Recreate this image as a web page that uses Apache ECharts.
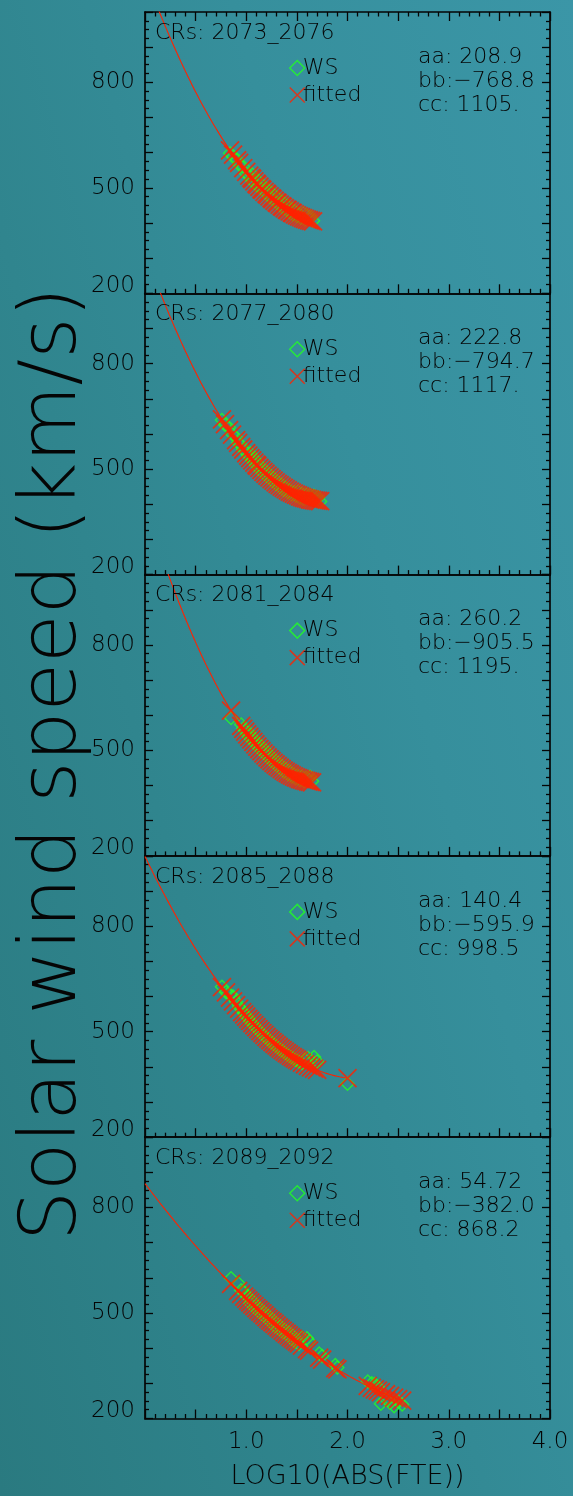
<!DOCTYPE html>
<html>
<head>
<meta charset="utf-8">
<script src="https://cdn.jsdelivr.net/npm/echarts@6/dist/echarts.min.js"></script>
<style>
  html, body { margin: 0; padding: 0; }
  #chart {
    width: 573px; height: 1496px;
    background: linear-gradient(75deg, #2a7a80 0%, #30858e 35%, #368f9c 65%, #3b96a7 100%);
  }
</style>
</head>
<body>
<div id="chart"></div>
<script>
// Carrington-rotation groups, one panel each
const crGroups = ['2073_2076', '2077_2080', '2081_2084', '2085_2088', '2089_2092'];

// Quadratic fit  v = aa*x^2 + bb*x + cc  for each group
const aa = [208.9, 222.8, 260.2, 140.4, 54.72];
const bb = [-768.8, -794.7, -905.5, -595.9, -382.0];
const cc = [1105, 1117, 1195, 998.5, 868.2];

// log10|FTE| of each sample and the WS solar wind speed (km/s)
const fte1 = [0.84,0.87,0.91,0.93,0.97,1.00,1.03,1.05,1.06,1.08,1.10,1.11,1.13,1.15,1.16,1.18,1.20,1.21,1.23,1.25,1.26,1.28,1.30,1.31,1.33,1.35,1.36,1.38,1.40,1.41,1.43,1.45,1.46,1.48,1.50,1.52,1.54,1.56,1.58,1.60,1.62,1.64,1.66];
const ws1  = [598,588,580,566,560,540,535,522,538,514,524,505,516,497,508,490,484,495,474,486,468,478,458,470,452,462,444,455,436,448,430,440,424,434,420,426,414,428,410,422,412,418,406];

const fte2 = [0.76,0.79,0.83,0.86,0.90,0.92,0.95,0.97,1.00,1.02,1.04,1.06,1.08,1.10,1.11,1.13,1.15,1.17,1.19,1.21,1.23,1.25,1.27,1.29,1.31,1.33,1.35,1.37,1.39,1.41,1.43,1.45,1.47,1.49,1.51,1.53,1.55,1.57,1.59,1.61,1.63,1.65,1.67,1.69,1.71,1.73];
const ws2  = [640,626,618,600,590,575,568,556,548,538,545,524,530,510,518,498,505,488,495,478,484,468,475,458,464,450,456,440,447,434,440,428,434,424,436,418,430,414,428,420,426,416,424,412,420,408];

const fte3 = [0.85,0.95,0.97,0.99,1.01,1.03,1.05,1.07,1.09,1.11,1.13,1.15,1.17,1.19,1.21,1.23,1.25,1.27,1.29,1.31,1.33,1.35,1.37,1.39,1.41,1.43,1.45,1.47,1.49,1.51,1.53,1.55,1.57,1.59,1.61,1.63,1.65];
const ws3  = [592,574,562,556,544,550,530,535,518,522,505,512,494,500,482,488,470,476,460,466,450,456,440,448,432,440,426,432,420,428,416,425,412,422,418,425,412];

const fte4 = [0.76,0.80,0.84,0.87,0.90,0.93,0.96,0.98,1.00,1.02,1.04,1.06,1.08,1.10,1.12,1.14,1.16,1.18,1.20,1.22,1.24,1.26,1.28,1.30,1.32,1.34,1.36,1.38,1.40,1.42,1.44,1.46,1.48,1.50,1.52,1.55,1.58,1.61,1.64,1.67,1.70,2.00];
const ws4  = [628,612,605,600,585,570,560,552,545,538,530,522,518,510,505,498,492,488,482,478,470,468,462,458,452,448,445,440,435,432,428,425,420,418,415,410,420,425,418,428,415,352];

const fte5 = [0.85,0.92,0.95,0.98,1.00,1.02,1.04,1.06,1.08,1.10,1.12,1.14,1.16,1.18,1.20,1.22,1.24,1.26,1.28,1.30,1.32,1.34,1.36,1.38,1.40,1.42,1.44,1.46,1.48,1.50,1.52,1.55,1.60,1.62,1.72,1.75,1.88,1.90,2.20,2.24,2.27,2.30,2.33,2.38,2.42,2.46,2.50,2.54];
const ws5  = [599,585,565,560,550,545,528,535,515,520,505,512,495,500,485,492,475,480,462,470,455,462,445,452,440,445,428,435,418,425,412,430,428,420,385,378,352,345,305,300,298,290,242,255,245,235,248,240];

// Axis ticks that carry labels
const xLabelValues = [1, 2, 3, 4];
const xLabelTexts  = ['1.0', '2.0', '3.0', '4.0'];
const yLabelValues = [200, 500, 800];

const fteSets = [fte1, fte2, fte3, fte4, fte5];
const wsSets  = [ws1, ws2, ws3, ws4, ws5];

const X_TITLE = 'LOG10(ABS(FTE))';
const Y_TITLE = 'Solar wind speed (km/s)';

// ---- layout & style ----
const PANEL_TOP = 12, PANEL_H = 281.3, LEFT = 145, RIGHT = 23;
const INK = '#050505';
const FONT = 'DejaVu Sans';
const WEIGHT = 200;
const RED = '#ff2200';
const GREEN = '#22ff22';
const CROSS = 'path://M0,0L20,20M20,0L0,20';

const fitAt = (i, x) => aa[i] * x * x + bb[i] * x + cc[i];

// 4-significant-digit coefficient text, e.g. "1105." / "54.72"
function coefText(v) {
  let s = v.toPrecision(4);
  if (s.indexOf('.') < 0) s += '.';
  return s.replace('-', '\u2212');
}

const chart = echarts.init(document.getElementById('chart'), null, { renderer: 'canvas' });

const grid = [], xAxis = [], yAxis = [], series = [], title = [], legend = [];
const txt = (size, extra) => Object.assign({ color: INK, fontFamily: FONT, fontWeight: WEIGHT, fontSize: size }, extra || {});

crGroups.forEach((cr, i) => {
  const top = PANEL_TOP + i * PANEL_H;
  const isLast = i === crGroups.length - 1;
  grid.push({ left: LEFT, right: RIGHT, top: top, height: PANEL_H, outerBoundsMode: 'none', containLabel: false });

  const tickLine = { color: INK, width: 1.3 };
  const frameLine = { show: true, onZero: false, lineStyle: { color: INK, width: 1.7 } };

  // bottom x axis
  xAxis.push({
    gridIndex: i, type: 'value', position: 'bottom', min: 0, max: 4, interval: 0.5,
    axisLine: frameLine,
    axisTick: { show: true, inside: true, length: 9, lineStyle: tickLine },
    minorTick: { show: true, splitNumber: 5, length: 4.5, lineStyle: tickLine },
    splitLine: { show: false }, minorSplitLine: { show: false },
    axisLabel: Object.assign({
      show: isLast, margin: 12,
      formatter: v => {
        const k = xLabelValues.findIndex(t => Math.abs(t - v) < 1e-6);
        return k >= 0 ? xLabelTexts[k] : '';
      }
    }, txt(23)),
    name: isLast ? X_TITLE : '', nameLocation: 'middle', nameGap: 45,
    nameTextStyle: txt(27)
  });
  // top x axis (frame)
  xAxis.push({
    gridIndex: i, type: 'value', position: 'top', min: 0, max: 4, interval: 0.5,
    axisLine: frameLine,
    axisTick: { show: i === 0, inside: true, length: 9, lineStyle: tickLine },
    minorTick: { show: i === 0, splitNumber: 5, length: 4.5, lineStyle: tickLine },
    splitLine: { show: false }, axisLabel: { show: false }
  });
  // left y axis
  yAxis.push({
    gridIndex: i, type: 'value', position: 'left', min: 200, max: 1000, interval: 100,
    axisLine: frameLine,
    axisTick: { show: true, inside: true, length: 8, lineStyle: tickLine },
    minorTick: { show: true, splitNumber: 4, length: 4, lineStyle: tickLine },
    splitLine: { show: false }, minorSplitLine: { show: false },
    axisLabel: Object.assign({
      show: true, margin: 10,
      formatter: v => {
        if (!yLabelValues.includes(v)) return '';
        return v === yLabelValues[0] ? '{lo|' + v + '}' : String(v);
      },
      rich: { lo: txt(23, { padding: [0, 0, 15, 0] }) }
    }, txt(23))
  });
  // right y axis (frame)
  yAxis.push({
    gridIndex: i, type: 'value', position: 'right', min: 200, max: 1000, interval: 100,
    axisLine: frameLine,
    axisTick: { show: true, inside: true, length: 8, lineStyle: tickLine },
    minorTick: { show: true, splitNumber: 4, length: 4, lineStyle: tickLine },
    splitLine: { show: false }, axisLabel: { show: false }
  });

  const xs = fteSets[i], ws = wsSets[i];
  const xAxisIndex = 2 * i, yAxisIndex = 2 * i;

  // observed WS speeds
  series.push({
    name: 'WS', type: 'scatter', xAxisIndex, yAxisIndex, z: 2,
    symbol: 'diamond', symbolSize: 13,
    itemStyle: { color: 'transparent', borderColor: GREEN, borderWidth: 1.4 },
    data: xs.map((x, k) => [x, ws[k]]), silent: true
  });
  // fitted curve over the sampled range
  const xmax = Math.max(...xs);
  const curve = [];
  for (let k = 0; k * 0.01 <= xmax + 1e-9; k++) {
    const x = k * 0.01;
    curve.push([x, fitAt(i, x)]);
  }
  series.push({
    name: 'fit curve', type: 'line', xAxisIndex, yAxisIndex, z: 3,
    showSymbol: false, smooth: false, clip: true, silent: true,
    lineStyle: { color: RED, width: 1.1 },
    data: curve
  });
  // fitted speed at each sample
  series.push({
    name: 'fitted', type: 'scatter', xAxisIndex, yAxisIndex, z: 4,
    symbol: CROSS, symbolSize: 18,
    itemStyle: { color: 'transparent', borderColor: RED, borderWidth: 1.8 },
    data: xs.map(x => [x, fitAt(i, x)]), silent: true
  });

  // panel annotations
  title.push({
    text: 'CRs: ' + cr, left: 155, top: top + 9, padding: 0,
    textStyle: txt(22, { lineHeight: 24 })
  });
  title.push({
    text: 'aa: ' + coefText(aa[i]) + '\nbb:' + coefText(bb[i]) + '\ncc: ' + coefText(cc[i]),
    left: 418, top: top + 33, padding: 0,
    textStyle: txt(22, { lineHeight: 24 })
  });

  legend.push({
    data: ['WS', 'fitted'], orient: 'vertical', left: 289, top: top + 45, padding: 0,
    itemWidth: 15, itemHeight: 15, itemGap: 5, selectedMode: false,
    itemStyle: { borderWidth: 1.5 },
    textStyle: txt(22, { padding: [0, 0, 0, -7] })
  });
});

chart.setOption({
  backgroundColor: 'transparent',
  animation: false,
  grid, xAxis, yAxis, series, title, legend,
  graphic: [{
    type: 'text', x: 54, y: 764, rotation: Math.PI / 2, silent: true,
    style: {
      text: Y_TITLE, fill: INK, fontFamily: FONT, fontWeight: WEIGHT, fontSize: 79,
      align: 'center', verticalAlign: 'middle'
    }
  }]
});
</script>
</body>
</html>
